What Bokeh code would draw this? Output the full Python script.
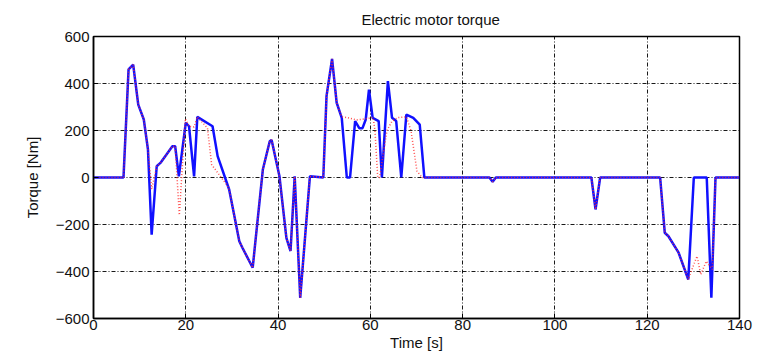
from bokeh.plotting import figure
from bokeh.models import Range1d, FixedTicker
from bokeh.embed import file_html
from bokeh.resources import INLINE

# ---- data ----
blue_t = [0, 6.5, 7.6, 8.6, 9.7, 10.9, 11.8, 12.6, 13.7, 14.5, 17.1, 17.7, 18.5, 20.0, 20.7,
          21.8, 22.5, 25.8, 26.9, 29.4, 31.6, 32.3, 34.5, 36.7, 38.2, 38.6, 40.3, 41.8, 42.7,
          43.6, 44.8, 46.9, 49.8, 50.5, 51.7, 52.7, 53.8, 54.9, 55.6, 56.7, 57.6, 58.3, 59.0,
          59.7, 60.5, 61.8, 62.5, 63.8, 64.7, 65.6, 66.7, 67.8, 69.3, 70.7, 71.7, 85.8, 86.5,
          87.2, 107.9, 108.8, 109.8, 122.8, 123.8, 124.6, 126.8, 128.9, 130.1, 132.9, 133.9,
          134.8, 140]
blue_v = [0, 0, 460, 480, 310, 247, 120, -243, 48, 62, 133, 133, 5, 233, 218,
          5, 258, 218, 91, -51, -271, -300, -384, 34, 154, 160, 5, -257, -313,
          5, -512, 5, 0, 346, 505, 318, 254, 0, 0, 240, 210, 210, 247,
          374, 254, 240, 0, 410, 254, 240, 0, 268, 254, 225, 0, 0, -18,
          0, 0, -136, 0, 0, -235, -250, -320, -434, 0, 0, -512,
          0, 0]

red_t = [0, 6.5, 7.6, 8.6, 9.7, 10.9, 11.8, 12.6, 13.7, 14.5, 17.1, 17.7, 18.6, 19.9, 20.7,
         21.8, 22.5, 24.7, 25.6, 29.1, 29.4, 31.6, 32.3, 34.5, 36.7, 38.2, 38.6, 40.3, 41.8,
         42.7, 43.6, 44.8, 46.9, 49.8, 50.5, 51.7, 52.7, 53.8, 55.0, 57.0, 59.0, 60.6, 61.0,
         61.6, 62.0, 63.6, 64.7, 66.0, 67.8, 68.8, 70.1, 71.2, 85.8, 86.5, 87.2, 107.9, 108.8,
         109.8, 122.8, 123.8, 124.6, 126.8, 128.9, 130.1, 130.8, 131.6, 132.8, 134.1, 134.8, 140]
red_v = [0, 0, 460, 480, 310, 247, 120, -50, 48, 62, 133, 133, -160, 250, 218,
         215, 258, 210, 55, -37, -51, -271, -300, -384, 34, 154, 160, 5, -257,
         -313, 5, -512, 5, 0, 346, 505, 318, 258, 255, 245, 250, 255, 200,
         0, 0, 200, 240, 255, 258, 200, 27, 0, 0, -18, 0, 0, -136,
         0, 0, -235, -250, -320, -434, -370, -335, -413, -356, -391, 0, 0]

x_ticks = [0, 20, 40, 60, 80, 100, 120, 140]
y_ticks = [-600, -400, -200, 0, 200, 400, 600]

FONT = "Liberation Sans"

p = figure(width=760, height=354, output_backend="svg", toolbar_location=None,
           x_range=Range1d(0, 140), y_range=Range1d(-600, 600),
           min_border_left=93, min_border_right=21, min_border_top=35, min_border_bottom=36)

p.title.text = "Electric motor torque"
p.title.text_font = FONT
p.title.text_font_size = "15px"
p.title.text_font_style = "normal"
p.title.text_color = "#111111"
p.title.align = "left"
p.title.offset = 268
p.title.standoff = 17

p.line(blue_t, blue_v, line_color="#1010ff", line_width=2.5)
p.line(red_t, red_v, line_color="#ff3030", line_width=1.5, line_dash="1 2", line_alpha=0.85)

for ax in (p.xaxis[0], p.yaxis[0]):
    ax.axis_line_color = "black"
    ax.axis_line_width = 1.5
    ax.major_tick_in = 5
    ax.major_tick_out = 0
    ax.minor_tick_line_color = None
    ax.major_tick_line_color = "black"
    ax.major_label_text_font = FONT
    ax.major_label_text_font_size = "15px"
    ax.major_label_text_color = "#111111"
    ax.axis_label_text_font = FONT
    ax.axis_label_text_font_size = "15px"
    ax.axis_label_text_font_style = "normal"
    ax.axis_label_text_color = "#111111"

p.xaxis.ticker = FixedTicker(ticks=x_ticks)
p.yaxis.ticker = FixedTicker(ticks=y_ticks)
p.yaxis.major_label_overrides = {v: (("\u2212" + str(-v)) if v < 0 else str(v)) for v in y_ticks}
p.xaxis.axis_label = "Time [s]"
p.yaxis.axis_label = "Torque [Nm]"
p.xaxis.major_label_standoff = 1
p.xaxis.axis_label_standoff = 1
p.yaxis.major_label_standoff = 4
p.yaxis.axis_label_standoff = 12

for g in (p.xgrid[0], p.ygrid[0]):
    g.grid_line_color = "black"
    g.grid_line_dash = "4 2 1 2"
    g.grid_line_width = 1
    g.grid_line_alpha = 0.9

p.outline_line_color = "black"
p.outline_line_width = 1.5
p.background_fill_color = "white"
p.border_fill_color = "white"

open("out.html", "w").write(file_html(p, INLINE))
